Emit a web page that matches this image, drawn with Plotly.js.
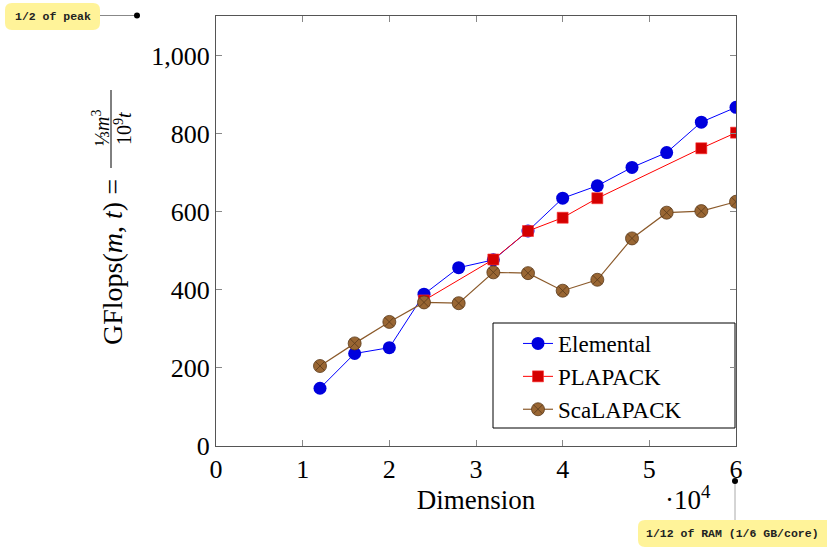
<!DOCTYPE html>
<html><head><meta charset="utf-8">
<script src="https://cdn.plot.ly/plotly-3.0.1.min.js"></script>
<style>html,body{margin:0;padding:0;background:#fff}#c{width:827px;height:550px}</style>
</head><body><div id="c"></div>
<script>
const elemX = [12000,16000,20000,24000,28000,32000,36000,40000,44000,48000,52000,56000,60000];
const elemY = [148,237,252,389,457,477,551,635,667,714,752,830,868];
const plapX = [24000,32000,36000,40000,44000,56000,60000];
const plapY = [373,478,551,585,635,763,803];
const scalX = [12000,16000,20000,24000,28000,32000,36000,40000,44000,48000,52000,56000,60000];
const scalY = [205,263,318,368,366,445,443,398,426,532,598,602,626];
const xTickVals = [0,10000,20000,30000,40000,50000,60000];
const xTickText = ['0','1','2','3','4','5','6'];
const yTickVals = [0,200,400,600,800,1000];

const serif = 'Liberation Serif, DejaVu Serif, serif';
const mono = 'Liberation Mono, DejaVu Sans Mono, monospace';

const traces = [
 {name:'Elemental', x:elemX, y:elemY, mode:'lines+markers',
  line:{color:'#0000ff', width:1}, marker:{symbol:'circle', size:13, color:'#0000dd'}},
 {name:'PLAPACK', x:plapX, y:plapY, mode:'lines+markers',
  line:{color:'#ff0000', width:1}, marker:{symbol:'square', size:11, color:'#d40000', line:{color:'#ff3030', width:0.6}}},
 {name:'ScaLAPACK', x:scalX, y:scalY, mode:'lines+markers',
  line:{color:'#8b5a2b', width:1.2}, marker:{symbol:'circle-x', size:13, color:'#996633', line:{color:'#5a3a1a', width:0.8}}}
];

const px = v => (v-216)/520;   // pixel -> paper x
const py = v => (446-v)/430;   // pixel -> paper y
function rrect(x0,y0,x1,y1,r){
  const X=px, Y=py;
  return `M${X(x0+r)},${Y(y0)} L${X(x1-r)},${Y(y0)} Q${X(x1)},${Y(y0)} ${X(x1)},${Y(y0+r)} L${X(x1)},${Y(y1-r)} Q${X(x1)},${Y(y1)} ${X(x1-r)},${Y(y1)} L${X(x0+r)},${Y(y1)} Q${X(x0)},${Y(y1)} ${X(x0)},${Y(y1-r)} L${X(x0)},${Y(y0+r)} Q${X(x0)},${Y(y0)} ${X(x0+r)},${Y(y0)} Z`;
}
const yellow = '#fff399';

const layout = {
 width:827, height:550,
 margin:{l:216, r:91, t:16, b:104},
 paper_bgcolor:'#fff', plot_bgcolor:'#fff',
 font:{family:serif, size:26, color:'#000'},
 showlegend:true,
 legend:{x:px(518), y:py(431), xanchor:'left', yanchor:'bottom',
   borderwidth:0, bgcolor:'rgba(0,0,0,0)', tracegroupgap:0,
   font:{family:serif, size:23}},
 xaxis:{range:[0,60000], tickvals:xTickVals, ticktext:xTickText,
   ticks:'inside', ticklen:6, tickcolor:'#888', mirror:'allticks',
   showline:true, linecolor:'#555', linewidth:1, showgrid:false, zeroline:false,
   tickfont:{family:serif, size:26},
   title:{text:'Dimension', font:{family:serif, size:27}, standoff:6}},
 yaxis:{range:[0,1102], tickvals:yTickVals, tickformat:',d', separatethousands:true,
   ticks:'inside', ticklen:6, tickcolor:'#888', mirror:'allticks',
   showline:true, linecolor:'#555', linewidth:1, showgrid:false, zeroline:false,
   tickfont:{family:serif, size:26}},
 annotations:[
  {xref:'paper', yref:'paper', x:px(112), y:py(262), xanchor:'center', yanchor:'middle',
   text:'GFlops(<i>m</i>, <i>t</i>) =', textangle:-90, showarrow:false, font:{family:serif, size:28}},
  {xref:'paper', yref:'paper', x:px(101), y:py(128), xanchor:'center', yanchor:'middle',
   text:'⅓<i>m</i><sup>3</sup>', textangle:-90, showarrow:false, font:{family:serif, size:20}},
  {xref:'paper', yref:'paper', x:px(123), y:py(129), xanchor:'center', yanchor:'middle',
   text:'10<sup>9</sup><i>t</i>', textangle:-90, showarrow:false, font:{family:serif, size:20}},
  {xref:'paper', yref:'paper', x:px(688), y:py(498), xanchor:'center', yanchor:'middle',
   text:'·10<sup>4</sup>', showarrow:false, font:{family:serif, size:27}},
  {xref:'paper', yref:'paper', x:px(52.5), y:py(16.5), xanchor:'center', yanchor:'middle',
   text:'<b>1/2 of peak</b>', showarrow:false, font:{family:mono, size:11.5, color:'#222'}},
  {xref:'paper', yref:'paper', x:px(732), y:py(533.5), xanchor:'center', yanchor:'middle',
   text:'<b>1/12 of RAM (1/6 GB/core)</b>', showarrow:false, font:{family:mono, size:11.5, color:'#222'}}
 ],
 shapes:[
  {type:'rect', xref:'paper', yref:'paper', layer:'below', x0:px(493), x1:px(735), y0:py(323), y1:py(428), fillcolor:'#fff', line:{color:'#000', width:1}},
  {type:'line', xref:'paper', yref:'paper', x0:px(111), x1:px(111), y0:py(90), y1:py(168), line:{color:'#000', width:1}},
  {type:'path', xref:'paper', yref:'paper', path:rrect(5,3,100,30,7), fillcolor:yellow, line:{width:0}},
  {type:'path', xref:'paper', yref:'paper', path:rrect(638,520,834,547,7), fillcolor:yellow, line:{width:0}},
  {type:'line', xref:'paper', yref:'paper', x0:px(100), x1:px(137), y0:py(15.5), y1:py(15.5), line:{color:'#888', width:1}},
  {type:'line', xref:'paper', yref:'paper', x0:px(735), x1:px(735), y0:py(481), y1:py(520), line:{color:'#aaa', width:1}},
  {type:'circle', xref:'paper', yref:'paper', x0:px(134), x1:px(140), y0:py(12.5), y1:py(18.5), fillcolor:'#000', line:{width:0}},
  {type:'circle', xref:'paper', yref:'paper', x0:px(732), x1:px(738), y0:py(478), y1:py(484), fillcolor:'#000', line:{width:0}}
 ]
};
Plotly.newPlot('c', traces, layout, {displayModeBar:false, staticPlot:true});
</script></body></html>
